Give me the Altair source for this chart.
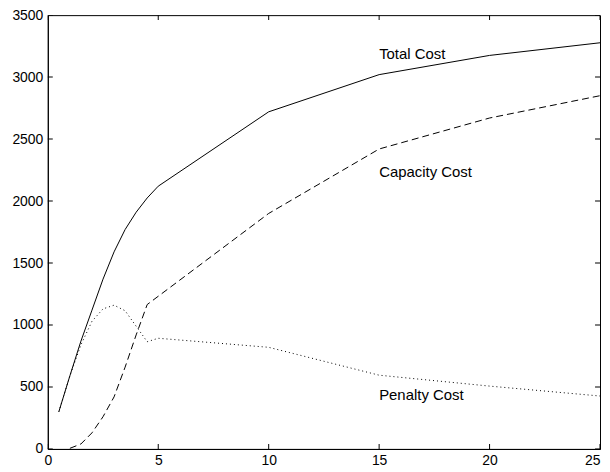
import altair as alt
import pandas as pd

# ---- data ----
x_total = [0.5, 1, 1.5, 2, 2.5, 3, 3.5, 4, 4.5, 5, 10, 15, 20, 25]
total_cost = [300, 590, 870, 1120, 1370, 1590, 1770, 1910, 2025, 2120, 2720, 3020, 3175, 3277]

x_capacity = [1, 1.5, 2, 2.5, 3, 3.5, 4, 4.5, 10, 15, 20, 25]
capacity_cost = [5, 40, 130, 260, 420, 660, 920, 1165, 1900, 2420, 2670, 2850]

x_penalty = [0.5, 1, 1.5, 2, 2.5, 3, 3.5, 4, 4.5, 5, 10, 15, 20, 25]
penalty_cost = [300, 590, 840, 1030, 1130, 1160, 1115, 990, 865, 893, 820, 595, 507, 427]

label_text = ["Total Cost", "Capacity Cost", "Penalty Cost"]
label_x = [15, 15, 15]
label_y = [3150, 2195, 395]

x_ticks = [0, 5, 10, 15, 20, 25]
y_ticks = [0, 500, 1000, 1500, 2000, 2500, 3000, 3500]

FONT = "Liberation Sans"

xscale = alt.Scale(domain=[0, 25], nice=False, zero=False)
yscale = alt.Scale(domain=[0, 3500], nice=False)

xaxis = alt.Axis(
    values=x_ticks, title=None, grid=False, ticks=False, format="d",
    labelPadding=5, labelFont=FONT, labelFontSize=14, labelColor="black",
    domainColor="black", domainWidth=1, labelFlush=False,
    labelAlign={"condition": {"test": "datum.value == 25", "value": "right"}, "value": "center"},
)
yaxis = alt.Axis(
    values=y_ticks, title=None, grid=False, ticks=False, format="d",
    labelPadding=5, labelFont=FONT, labelFontSize=14, labelColor="black",
    domainColor="black", domainWidth=1, labelFlush=False,
)

df_total = pd.DataFrame({"x": x_total, "y": total_cost})
df_cap = pd.DataFrame({"x": x_capacity, "y": capacity_cost})
df_pen = pd.DataFrame({"x": x_penalty, "y": penalty_cost})
df_lab = pd.DataFrame({"label": label_text, "x": label_x, "y": label_y})
df_xt = pd.DataFrame({"t": x_ticks})
df_yt = pd.DataFrame({"t": y_ticks})

pen = alt.Chart(df_pen).mark_line(color="black", strokeWidth=1, strokeDash=[1, 3]).encode(
    x=alt.X("x:Q", scale=xscale, axis=xaxis),
    y=alt.Y("y:Q", scale=yscale, axis=yaxis),
)
cap = alt.Chart(df_cap).mark_line(color="black", strokeWidth=1, strokeDash=[7, 4]).encode(
    x=alt.X("x:Q", scale=xscale),
    y=alt.Y("y:Q", scale=yscale),
)
tot = alt.Chart(df_total).mark_line(color="black", strokeWidth=1).encode(
    x=alt.X("x:Q", scale=xscale),
    y=alt.Y("y:Q", scale=yscale),
)
labels = alt.Chart(df_lab).mark_text(
    align="left", baseline="alphabetic", font=FONT, fontSize=15, color="black"
).encode(
    x=alt.X("x:Q", scale=xscale),
    y=alt.Y("y:Q", scale=yscale),
    text="label:N",
)

tick_style = dict(size=10, thickness=1, color="black", clip=True, opacity=1)
bottom_ticks = alt.Chart(df_xt).mark_tick(orient="vertical", **tick_style).encode(
    x=alt.X("t:Q", scale=xscale),
    y=alt.YDatum(0, type="quantitative"),
)
top_ticks = alt.Chart(df_xt).mark_tick(orient="vertical", **tick_style).encode(
    x=alt.X("t:Q", scale=xscale),
    y=alt.YDatum(3500, type="quantitative"),
)
left_ticks = alt.Chart(df_yt).mark_tick(orient="horizontal", **tick_style).encode(
    y=alt.Y("t:Q", scale=yscale),
    x=alt.XDatum(0, type="quantitative"),
)
right_ticks = alt.Chart(df_yt).mark_tick(orient="horizontal", **tick_style).encode(
    y=alt.Y("t:Q", scale=yscale),
    x=alt.XDatum(25, type="quantitative"),
)

chart = alt.layer(
    pen, cap, tot, labels, bottom_ticks, top_ticks, left_ticks, right_ticks
).properties(
    width=555,
    height=436,
    autosize=alt.AutoSizeParams(type="none"),
    padding={"left": 40, "top": 6, "right": 2, "bottom": 22},
    background="white",
).configure_view(
    stroke="black", strokeWidth=1
).configure_axis(grid=False)

chart.save("out.html", embed_options={"renderer": "svg", "actions": False})
